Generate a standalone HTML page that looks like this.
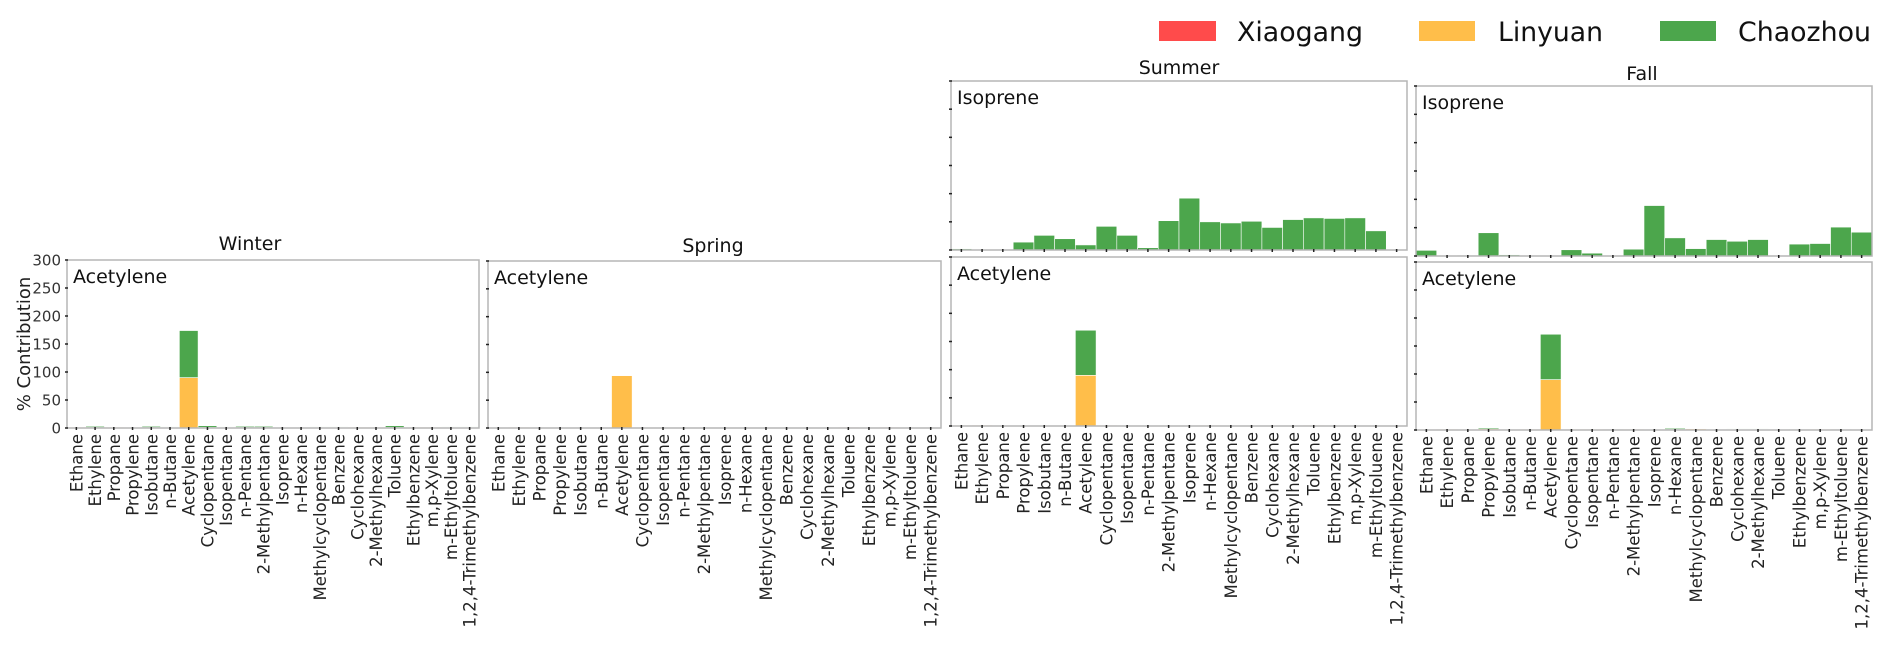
<!DOCTYPE html>
<html><head><meta charset="utf-8"><style>
body{margin:0;background:#fff;}
svg{display:block;font-family:"DejaVu Sans","Liberation Sans",sans-serif;}
</style></head><body>
<svg id="chart" width="1892" height="655" viewBox="0 0 1892 655" xmlns="http://www.w3.org/2000/svg">
<g>
<rect x="1159" y="21" width="57" height="20" fill="#ff4b4b"/>
<text x="1237" y="41" font-size="27" textLength="126" lengthAdjust="spacingAndGlyphs" fill="#111">Xiaogang</text>
<rect x="1419" y="21" width="56" height="20" fill="#ffbe4a"/>
<text x="1498" y="41" font-size="27" textLength="105" lengthAdjust="spacingAndGlyphs" fill="#111">Linyuan</text>
<rect x="1660" y="21" width="56" height="20" fill="#4ca64c"/>
<text x="1738" y="41" font-size="27" textLength="133" lengthAdjust="spacingAndGlyphs" fill="#111">Chaozhou</text>
</g>
<text transform="translate(30,344) rotate(-90)" text-anchor="middle" font-size="18" fill="#222">% Contribution</text>
</svg>
<script>
const categories=["Ethane","Ethylene","Propane","Propylene","Isobutane","n-Butane","Acetylene","Cyclopentane","Isopentane","n-Pentane","2-Methylpentane","Isoprene","n-Hexane","Methylcyclopentane","Benzene","Cyclohexane","2-Methylhexane","Toluene","Ethylbenzene","m,p-Xylene","m-Ethyltoluene","1,2,4-Trimethylbenzene"];
const yTicks=[0,50,100,150,200,250,300];
const winterLinyuan=[1,1,1,0,1,1,90,1,1,1,1,0,0,1,1,1,1,1,1,1,1,1];
const winterChaozhou=[0,2,0,0,2,1,84,3,1,2,2,0,0,1,1,0,0,3,0,0,1,1];
const springLinyuan=[0,1,0,0,0,0,94,0,0,0,0,0,0,0,0,0,0,1.5,0,1.5,0,0];
const springChaozhou=[0,0,0,0,0,0,0,0,0,0,0,0,0,0,0,0,0,0,0,0,0,0];
const summerLinyuan=[1,1.5,0,0,0,0,90,1,0,0,0,0,1,0,0,0,0,1,0,0,0,0];
const summerChaozhou=[0,0,0,0,0,0,80,0,0,0,0,0,0,0,0,0,0,0,0,0,0,0];
const fallLinyuan=[0,1,0,2,0,1,90,1,1,0,1,0,1,2,0,1,1,0,0,1,0,0];
const fallChaozhou=[0,0,0,2,0,0,81,0,0,1,0,0,2,1,0,1,1,0,1,0,1,0];
const summerIsoprene=[2,0,0,14,26,20,9,42,26,4,52,92,50,48,51,40,54,57,56,57,34,0];
const fallIsoprene=[10,0,1,41,2,0,0,11,5,0,12,89,32,13,29,26,29,0,21,22,51,42];

const NS="http://www.w3.org/2000/svg";
const svg=document.getElementById('chart');
function mk(tag,attrs,parent){const e=document.createElementNS(NS,tag);for(const k in attrs)e.setAttribute(k,attrs[k]);(parent||svg).appendChild(e);return e;}

function panel(cfg){
  const g=mk('g',{});
  
  
  const {x0,x1,y0,y1}=cfg;
  const n=categories.length,bw=(x1-x0)/n;
  const xs=i=>x0+bw*i;
  const ys=v=>y1-(v/300)*(y1-y0);
  cfg.series.forEach(s=>{
    s.vals.forEach((v,i)=>{
      if(v<=0)return;
      const base=s.base?s.base[i]:0;
      const r=mk('rect',{x:xs(i),y:ys(base+v),width:bw,height:ys(base)-ys(base+v),fill:s.color,stroke:'#fff','stroke-width':0.6},g);
      
      
    });
  });
  const f=mk('rect',{x:x0,y:y0,width:x1-x0,height:y1-y0,fill:'none',stroke:'#b5b5b5','stroke-width':1.5},g);
  
  
  yTicks.forEach(t=>{
    mk('line',{x1:x0-2,x2:x0+1,y1:ys(t),y2:ys(t),stroke:'#222','stroke-width':1.5},g);
    if(cfg.yLabels){
      const tl=mk('text',{x:x0-6,y:ys(t)+5.5,'text-anchor':'end','font-size':15,fill:'#333'},g);
      tl.textContent=t;
      
      
    }
  });
  for(let i=0;i<n;i++){
    const cx=xs(i)+bw/2;
    mk('line',{x1:cx,x2:cx,y1:y1-1,y2:y1+2,stroke:'#222','stroke-width':1.5},g);
    if(cfg.xLabels){
      const t=mk('text',{transform:`translate(${cx+6},${y1+6}) rotate(-90)`,'text-anchor':'end','font-size':16.5,fill:'#222'},g);
      t.textContent=categories[i];
      
      
    }
  }
  const lab=mk('text',{x:x0+6,y:y0+23,'font-size':19,fill:'#111'},g);
  lab.textContent=cfg.label;
  
  
  if(cfg.title){
    const tt=mk('text',{x:cfg.titleX,y:cfg.titleY,'text-anchor':'middle','font-size':19,fill:'#111'},g);
    tt.textContent=cfg.title;
    
    
  }
}
const OR='#ffbe4a',GR='#4ca64c';
panel({name:'winter-panel',x0:67,x1:479,y0:260,y1:428,label:'Acetylene',title:'Winter',titleX:250,titleY:250,yLabels:true,xLabels:true,
  series:[{key:'linyuan',vals:winterLinyuan,color:OR},{key:'chaozhou',vals:winterChaozhou,base:winterLinyuan,color:GR}]});
panel({name:'spring-panel',x0:488,x1:941,y0:261,y1:428,label:'Acetylene',title:'Spring',titleX:713,titleY:252,xLabels:true,
  series:[{key:'linyuan',vals:springLinyuan,color:OR},{key:'chaozhou',vals:springChaozhou,base:springLinyuan,color:GR}]});
panel({name:'summer-panel',x0:951,x1:1407,y0:257,y1:426,label:'Acetylene',xLabels:true,
  series:[{key:'linyuan',vals:summerLinyuan,color:OR},{key:'chaozhou',vals:summerChaozhou,base:summerLinyuan,color:GR}]});
panel({name:'fall-panel',x0:1416,x1:1872,y0:262,y1:430,label:'Acetylene',xLabels:true,
  series:[{key:'linyuan',vals:fallLinyuan,color:OR},{key:'chaozhou',vals:fallChaozhou,base:fallLinyuan,color:GR}]});
panel({name:'summer-isoprene-panel',x0:951,x1:1407,y0:81,y1:250,label:'Isoprene',title:'Summer',titleX:1179,titleY:74,
  series:[{key:'chaozhou',vals:summerIsoprene,color:GR}]});
panel({name:'fall-isoprene-panel',x0:1416,x1:1872,y0:86,y1:256,label:'Isoprene',title:'Fall',titleX:1642,titleY:80,
  series:[{key:'chaozhou',vals:fallIsoprene,color:GR}]});
</script>
</body></html>
